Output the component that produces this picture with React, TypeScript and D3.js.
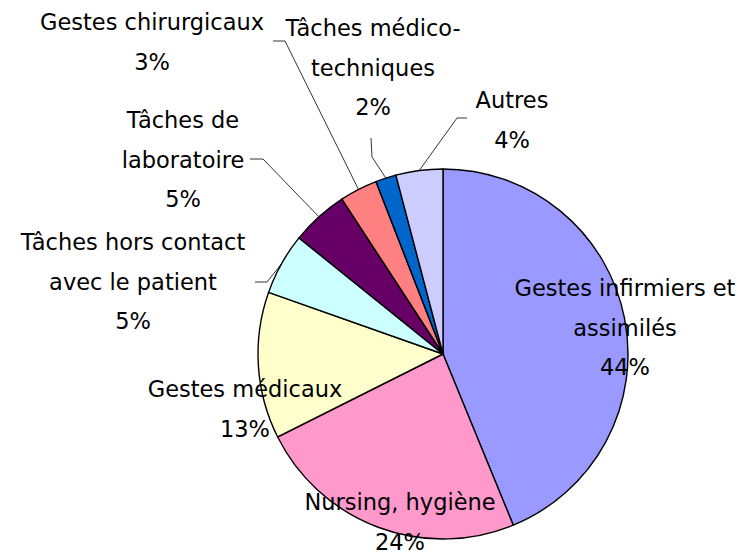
import React, { useEffect, useRef } from 'react';
import * as d3 from 'd3';

// categories, clockwise from 12 o'clock
const categories = [
  'Gestes infirmiers et assimilés',
  'Nursing, hygiène',
  'Gestes médicaux',
  'Tâches hors contact avec le patient',
  'Tâches de laboratoire',
  'Gestes chirurgicaux',
  'Tâches médico-techniques',
  'Autres',
];
const shares = [43.8, 23.8, 12.8, 5.4, 5.0, 3.3, 1.8, 4.1];
// how each label is broken into lines
const labelLines = [
  ['Gestes infirmiers et', 'assimilés'],
  ['Nursing, hygiène'],
  ['Gestes médicaux'],
  ['Tâches hors contact', 'avec le patient'],
  ['Tâches de', 'laboratoire'],
  ['Gestes chirurgicaux'],
  ['Tâches médico-', 'techniques'],
  ['Autres'],
];
const colors = ['#9999FF', '#FF99CC', '#FFFFCC', '#CCFFFF', '#660066', '#FF8080', '#0066CC', '#CCCCFF'];

// label layout: text centre x, first baseline y, leader elbow (null = none)
const labelLayout = [
  { x: 625, y: 296, elbow: null },
  { x: 400, y: 510, elbow: null },
  { x: 245, y: 397, elbow: null },
  { x: 133, y: 250, elbow: [[255, 282], [267, 282]] },
  { x: 183, y: 128, elbow: [[250, 159], [263, 159]] },
  { x: 152, y: 30, elbow: [[273, 41], [285, 41]] },
  { x: 373, y: 36, elbow: [[371, 138], [372, 157]] },
  { x: 512, y: 108, elbow: [[467, 118], [457, 118]] },
];

const W = 749;
const H = 553;
const cx = 443;
const cy = 354;
const R = 185;
const lineH = 39.5;
const font = '"Comic Sans MS", "DejaVu Sans", sans-serif';

export default function App() {
  const ref = useRef<SVGSVGElement>(null);

  useEffect(() => {
    document.body.style.margin = '0';
    const svg = d3.select(ref.current);
    svg.selectAll('*').remove();

    const data = categories.map((c, i) => ({ name: c, value: shares[i], i }));
    const pie = d3.pie<any>().sort(null).value((d) => d.value);
    const arcs = pie(data);
    const arc = d3.arc<any>().innerRadius(0).outerRadius(R);
    const total = d3.sum(shares);

    const g = svg.append('g').attr('transform', `translate(${cx},${cy})`);
    g.selectAll('path')
      .data(arcs)
      .enter()
      .append('path')
      .attr('d', arc)
      .attr('fill', (d) => colors[d.data.i])
      .attr('stroke', '#000')
      .attr('stroke-width', 1.4);

    // leader lines
    arcs.forEach((a) => {
      const lay = labelLayout[a.data.i];
      if (!lay.elbow) return;
      const mid = (a.startAngle + a.endAngle) / 2;
      const px = cx + R * Math.sin(mid);
      const py = cy - R * Math.cos(mid);
      const pts = [...lay.elbow, [px, py]];
      svg
        .append('path')
        .attr('d', d3.line()(pts as [number, number][]))
        .attr('fill', 'none')
        .attr('stroke', '#000')
        .attr('stroke-width', 0.8);
    });

    // labels
    arcs.forEach((a) => {
      const i = a.data.i;
      const lay = labelLayout[i];
      const lines = [...labelLines[i], `${Math.round((a.data.value / total) * 100)}%`];
      const t = svg
        .append('text')
        .attr('text-anchor', 'middle')
        .attr('font-family', font)
        .attr('font-size', 22.5)
        .attr('fill', '#000');
      lines.forEach((ln, k) => {
        t.append('tspan').attr('x', lay.x).attr('y', lay.y + k * lineH).text(ln);
      });
    });
  }, []);

  return <svg ref={ref} width={W} height={H} style={{ display: 'block', background: '#fff' }} />;
}
